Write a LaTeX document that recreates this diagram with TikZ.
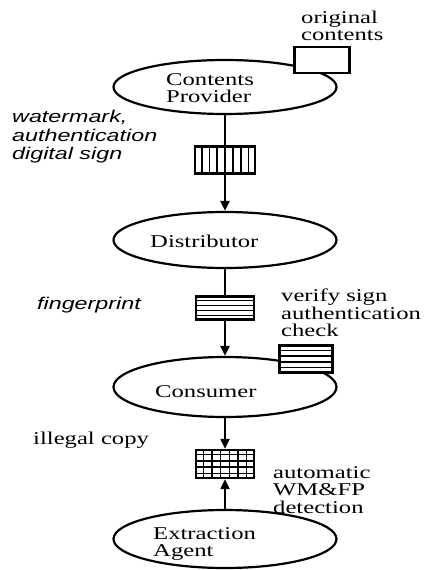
\documentclass[tikz,border=0pt]{standalone}
\usepackage{fontspec}
\setmainfont{Liberation Serif}[FakeStretch=1.37]
\newfontfamily\sflabel{Liberation Sans}[FakeStretch=1.37]
\usetikzlibrary{
    arrows.meta,
    shapes,
    calc,
    positioning
}
\tikzset{party/.style={ellipse, draw=black, line width=2.2pt, fill=white, minimum width=223pt, minimum height=56pt, inner sep=0pt}}
\tikzset{doc/.style={rectangle, draw=black, line width=2.4pt, fill=white, inner sep=0pt}}
\tikzset{flow/.style={line width=2.2pt, -{Triangle[length=10pt, width=9pt]}}}
\tikzset{rm/.style={font=\fontsize{18}{17.5}\selectfont, align=left, anchor=west, inner sep=0pt}}
\tikzset{sfi/.style={font=\sflabel\itshape\fontsize{17}{18.5}\selectfont, align=left, anchor=west, inner sep=0pt}}

\begin{document}
\begin{tikzpicture}[x=1pt, y=-1pt]
    \useasboundingbox (0, 0) rectangle (426, 570);

    % parties
    \node[party, minimum height=54pt] (cp) at (225, 87) {};
    \node[party] (dist) at (225, 240) {};
    \node[party, minimum height=60pt] (con) at (225, 387) {};
    \node[party, minimum height=58pt] (agent) at (225, 539) {};

    \node[rm] (cpt) at (166, 88) {Contents\\Provider};
    \node[rm] (distt) at (150, 241) {Distributor};
    \node[rm] (cont) at (155, 392) {Consumer};
    \node[rm] (agentt) at (153, 544) {Extraction\\Agent};

    % flows
    \draw[flow] (cp.south) -- (dist.north);
    \draw[flow] (dist.south) -- (con.north);

    % contents
    \node[doc, minimum width=55pt, minimum height=26pt] (orig) at (322, 60) {};
    \node[doc, minimum width=60pt, minimum height=27pt] (wm) at (225, 160) {};
    \node[doc, minimum width=58pt, minimum height=23pt] (fp) at (225, 308) {};
    \node[doc, minimum width=53pt, minimum height=27pt] (chk) at (306, 359) {};
    \node[doc, minimum width=58pt, minimum height=28pt] (grid) at (225, 464) {};

    \foreach \i in {1,...,7}
        \draw[line width=1.8pt] ($(wm.north west)!\i/8!(wm.north east)$) -- ($(wm.south west)!\i/8!(wm.south east)$);
    \foreach \i in {1,...,4}
        \draw[line width=1.2pt] ($(fp.north west)!\i/5!(fp.south west)$) -- ($(fp.north east)!\i/5!(fp.south east)$);
    \foreach \i in {1,...,4}
        \draw[line width=1.2pt] ($(chk.north west)!\i/5!(chk.south west)$) -- ($(chk.north east)!\i/5!(chk.south east)$);
    \foreach \i in {1,...,6}
        \draw[line width=1.2pt] ($(grid.north west)!\i/7!(grid.north east)$) -- ($(grid.south west)!\i/7!(grid.south east)$);
    \foreach \i in {1,...,4}
        \draw[line width=1.2pt] ($(grid.north west)!\i/5!(grid.south west)$) -- ($(grid.north east)!\i/5!(grid.south east)$);

    \draw[flow] (con.south) -- (grid.north);
    \draw[flow] (agent.north) -- (grid.south);

    % labels
    \node[rm] (origl) at (301, 26) {original\\contents};
    \node[sfi] (wml) at (12, 137) {watermark,\\authentication\\digital sign};
    \node[sfi] (fpl) at (37, 305) {fingerprint};
    \node[rm] (chkl) at (281, 313) {verify sign\\authentication\\check};
    \node[rm] (copyl) at (33, 440) {illegal copy};
    \node[rm] (detl) at (273, 490) {automatic\\WM\&FP\\detection};
\end{tikzpicture}
\end{document}
